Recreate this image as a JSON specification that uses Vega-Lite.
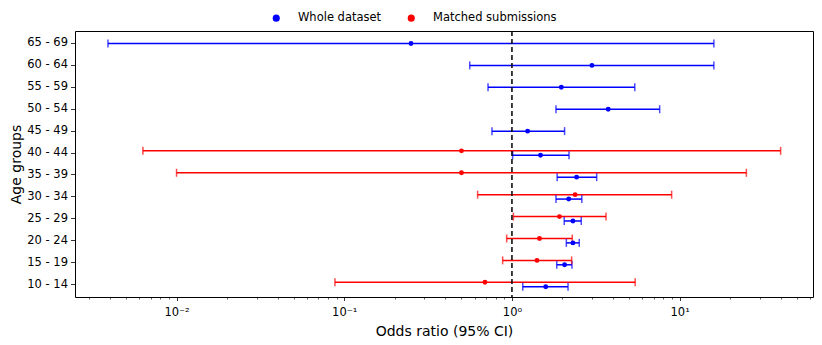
{
  "$schema": "https://vega.github.io/schema/vega-lite/v6.json",
  "autosize": {"type": "none"},
  "width": 738,
  "height": 266,
  "padding": {"left": 75, "top": 31, "right": 9, "bottom": 48},
  "background": "white",
  "config": {
    "view": {"stroke": "black", "strokeWidth": 1},
    "font": "DejaVu Sans",
    "axis": {
      "domain": false, "grid": false, "tickColor": "black", "tickWidth": 0.8,
      "labelColor": "black", "labelFont": "DejaVu Sans", "labelFontSize": 11.5,
      "titleFont": "DejaVu Sans", "titleFontSize": 14, "titleFontWeight": "normal", "titleColor": "black"
    },
    "legend": {"labelFont": "DejaVu Sans", "labelFontSize": 11.5, "labelColor": "black"}
  },
  "data": {"values": [
    {"age": "65 - 69", "series": "Whole dataset", "or": 0.25, "lo": 0.0039, "hi": 16.0},
    {"age": "60 - 64", "series": "Whole dataset", "or": 3.0, "lo": 0.56, "hi": 16.0},
    {"age": "55 - 59", "series": "Whole dataset", "or": 1.97, "lo": 0.72, "hi": 5.4},
    {"age": "50 - 54", "series": "Whole dataset", "or": 3.75, "lo": 1.83, "hi": 7.6},
    {"age": "45 - 49", "series": "Whole dataset", "or": 1.24, "lo": 0.76, "hi": 2.06},
    {"age": "40 - 44", "series": "Whole dataset", "or": 1.48, "lo": 1.01, "hi": 2.19},
    {"age": "35 - 39", "series": "Whole dataset", "or": 2.43, "lo": 1.86, "hi": 3.2},
    {"age": "30 - 34", "series": "Whole dataset", "or": 2.18, "lo": 1.83, "hi": 2.61},
    {"age": "25 - 29", "series": "Whole dataset", "or": 2.31, "lo": 2.05, "hi": 2.59},
    {"age": "20 - 24", "series": "Whole dataset", "or": 2.31, "lo": 2.11, "hi": 2.52},
    {"age": "15 - 19", "series": "Whole dataset", "or": 2.06, "lo": 1.85, "hi": 2.28},
    {"age": "10 - 14", "series": "Whole dataset", "or": 1.59, "lo": 1.16, "hi": 2.16},
    {"age": "40 - 44", "series": "Matched submissions", "or": 0.5, "lo": 0.0063, "hi": 40.0},
    {"age": "35 - 39", "series": "Matched submissions", "or": 0.5, "lo": 0.01, "hi": 25.0},
    {"age": "30 - 34", "series": "Matched submissions", "or": 2.38, "lo": 0.624, "hi": 8.96},
    {"age": "25 - 29", "series": "Matched submissions", "or": 1.92, "lo": 1.02, "hi": 3.64},
    {"age": "20 - 24", "series": "Matched submissions", "or": 1.46, "lo": 0.93, "hi": 2.29},
    {"age": "15 - 19", "series": "Matched submissions", "or": 1.41, "lo": 0.88, "hi": 2.27},
    {"age": "10 - 14", "series": "Matched submissions", "or": 0.69, "lo": 0.088, "hi": 5.43}
  ]},
  "transform": [
    {"joinaggregate": [{"op": "count", "as": "n"}], "groupby": ["age"]},
    {"calculate": "datum.n > 1 ? datum.series : 'Only'", "as": "slot"}
  ],
  "encoding": {
    "y": {
      "field": "age", "type": "nominal",
      "sort": ["65 - 69","60 - 64","55 - 59","50 - 54","45 - 49","40 - 44","35 - 39","30 - 34","25 - 29","20 - 24","15 - 19","10 - 14"],
      "scale": {"type": "band", "paddingInner": 0, "paddingOuter": 0.07},
      "axis": {"title": "Age groups", "tickSize": 4.5, "labelPadding": 3, "titlePadding": 3}
    },
    "yOffset": {
      "field": "slot", "type": "nominal",
      "scale": {"domain": ["Matched submissions", "Only", "Whole dataset"], "range": [7.66, 14.26], "paddingInner": 0, "paddingOuter": 0}
    },
    "color": {
      "field": "series", "type": "nominal",
      "scale": {"domain": ["Whole dataset", "Matched submissions"], "range": ["#0000ff", "#ff0000"]},
      "legend": {"title": null, "orient": "none", "legendX": 195.5, "legendY": -19, "direction": "horizontal", "symbolType": "circle", "symbolSize": 50, "labelOffset": 16, "columnPadding": 24,
        "encode": {"symbols": {"update": {"fill": {"scale": "color", "field": "value"}, "stroke": {"value": "transparent"}, "strokeWidth": {"value": 0}, "opacity": {"value": 1}}}}}
    }
  },
  "layer": [
    {
      "mark": {"type": "rule", "strokeWidth": 1.5},
      "encoding": {
        "x": {"field": "lo", "type": "quantitative",
          "scale": {"type": "log", "domain": [0.00248, 62.4], "nice": false},
          "axis": {"values": [0.01, 0.1, 1, 10], "labelExpr": "datum.value < 0.05 ? '10⁻²' : datum.value < 0.5 ? '10⁻¹' : datum.value < 5 ? '10⁰' : '10¹'", "tickSize": 3.5, "labelPadding": 6, "title": "Odds ratio (95% CI)", "titlePadding": 6, "orient": "bottom"}},
        "x2": {"field": "hi"}
      }
    },
    {
      "transform": [{"fold": ["lo", "hi"], "as": ["end", "bound"]}],
      "mark": {"type": "tick", "thickness": 1.5, "size": 8},
      "encoding": {
        "x": {"field": "bound", "type": "quantitative",
          "axis": {"values": [0.003,0.004,0.005,0.006,0.007,0.008,0.009,0.02,0.03,0.04,0.05,0.06,0.07,0.08,0.09,0.2,0.3,0.4,0.5,0.6,0.7,0.8,0.9,2,3,4,5,6,7,8,9,20,30,40,50,60], "labels": false, "tickSize": 2, "tickWidth": 0.6, "title": null, "orient": "bottom"}}
      }
    },
    {
      "mark": {"type": "point", "shape": "circle", "filled": true, "opacity": 1, "size": 24},
      "encoding": {
        "x": {"field": "or", "type": "quantitative", "axis": null}
      }
    },
    {
      "data": {"values": [{"ref": 1}]},
      "mark": {"type": "rule", "strokeDash": [5, 3], "strokeWidth": 1.5, "color": "black"},
      "encoding": {"x": {"field": "ref", "type": "quantitative", "axis": null}, "y": null, "yOffset": null, "color": null}
    }
  ],
  "resolve": {"axis": {"x": "independent"}}
}
